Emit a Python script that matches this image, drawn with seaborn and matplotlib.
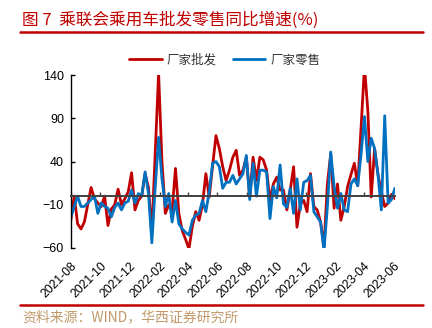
import numpy as np
import pandas as pd
import matplotlib
matplotlib.use('Agg')
import matplotlib.pyplot as plt
import matplotlib.dates as mdates
from matplotlib.lines import Line2D
import seaborn as sns

# ---------------- data ----------------
start_date = '2021-08-01'
n_weeks = 97
series_names = ['厂家批发', '厂家零售']
wholesale = [
    -28, 0, -32, -38, -30, -10, 10, -3, -8, -12,
    0, -34, -15, -10, 8, -10, -3, 5, 27, -16,
    -5, 0, 26, 10, -43, 50, 142, 40, -20, -10,
    -17, 32, -20, -40, -50, -61, -35, -18, -28, -10,
    26, -1,
    35, 70, 55, 34, 18, 30, 45, 53,
    24, 30, 45, -1, 45, 18, 45, 42, 30, -5,
    14, 22, 7, 7, -16, 7, 34, -36, -9, -5,
    -18, 26, -12, -16, -30, -59, 14, 49, -14, 14,
    -28, -12, 11, 25, 38, 12, 80, 150, 99, -1,
    55, 25, 5, -12, -8, 2, -3,
]
retail = [
    -24, -12, 0, -12, -12, -8, -4, 0, -20, -8,
    -12, -14, -24, -13, -8, -16, -8, -6, 7, -8,
    3, 0, 28, 3, -54, 10, 68, 20, -12, 3,
    -30, -5, -32, -38, -42, -45, -28, -22, -20, -5,
    -18, 5, 38, 40, 34, 9, 16, 16, 24, 14,
    20, 26, 47, -4, 38, 0, 30, 30, 28, -26,
    11, -2, 36, -9, -13, 9, -20, 20, -16, 16,
    18, 24, -18, -24, -30, -63, -13, 51, 11, -14,
    3, -16, -18, 14, 20, 12, 49, 92, 40, 67,
    55, 25, -16, 93, -8, -4, 9,
]
y_ticks = [-60, -10, 40, 90, 140]
title_text = '图 7  乘联会乘用车批发零售同比增速(%)'
source_text = '资料来源：WIND，华西证券研究所'

colors = ['#C00000', '#0070C0']

dates = pd.date_range(start_date, periods=n_weeks, freq='7D')
df = pd.DataFrame({
    'date': list(dates) + list(dates),
    'value': wholesale + retail,
    'series': [series_names[0]] * n_weeks + [series_names[1]] * n_weeks,
})

# ---------------- style ----------------
sns.set_theme(style='white')
plt.rcParams['font.family'] = ['Liberation Sans', 'Noto Sans CJK SC', 'DejaVu Sans']
plt.rcParams['axes.unicode_minus'] = True

fig = plt.figure(figsize=(4.32, 3.28), dpi=100)
ax = fig.add_axes([0.164, 0.244, 0.750, 0.527])

sns.lineplot(data=df, x='date', y='value', hue='series', hue_order=series_names,
             palette=colors, linewidth=2.0, ax=ax, legend=True)

ax.set_xlim(dates[0], dates[-1])
ax.set_ylim(-60, 140)
ax.set_yticks(y_ticks)
ax.set_xlabel('')
ax.set_ylabel('')

ax.xaxis.set_major_locator(mdates.MonthLocator(bymonth=[2, 4, 6, 8, 10, 12]))
ax.xaxis.set_major_formatter(mdates.DateFormatter('%Y-%m'))

for s in ['right', 'bottom']:
    ax.spines[s].set_visible(False)
ax.spines['top'].set_position(('data', 0))
ax.spines['top'].set_color('#404040')
ax.spines['top'].set_linewidth(1.4)
ax.spines['left'].set_color('black')
ax.spines['left'].set_linewidth(1.0)

ax.tick_params(axis='x', which='major', top=True, bottom=False,
               labeltop=False, labelbottom=True, direction='out',
               length=3, width=1, color='#404040', labelsize=8.8,
               labelcolor='black', pad=6)
ax.tick_params(axis='y', left=True, direction='in', length=3, width=1,
               color='black', labelsize=9, labelcolor='black', pad=5)
for lab in ax.get_xticklabels():
    lab.set_rotation(45)
    lab.set_ha('right')
    lab.set_rotation_mode('anchor')

sns.move_legend(ax, 'center', bbox_to_anchor=(0.52, 0.817),
                bbox_transform=fig.transFigure, ncol=2, title=None,
                frameon=False, fontsize=9, handlelength=2.6,
                columnspacing=1.3, handletextpad=0.4)
for t in ax.get_legend().get_texts():
    t.set_color('#333333')
    t.set_fontfamily(['Noto Sans CJK SC', 'DejaVu Sans'])

# ---------------- title / source ----------------
fig.text(0.051, 0.939, title_text, color='#C00000', fontsize=12,
         family=['Noto Sans CJK SC', 'DejaVu Sans'], va='center', ha='left')
fig.add_artist(Line2D([0.046, 0.979], [0.902, 0.902], transform=fig.transFigure,
                      color='#C00000', lw=1.8))
fig.add_artist(Line2D([0.046, 0.979], [0.070, 0.070], transform=fig.transFigure,
                      color='#C00000', lw=1.8))
fig.text(0.051, 0.034, source_text, color='#C09A6B', fontsize=10,
         family=['Noto Sans CJK SC', 'DejaVu Sans'], va='center', ha='left')

fig.savefig('out.png', dpi=100)
